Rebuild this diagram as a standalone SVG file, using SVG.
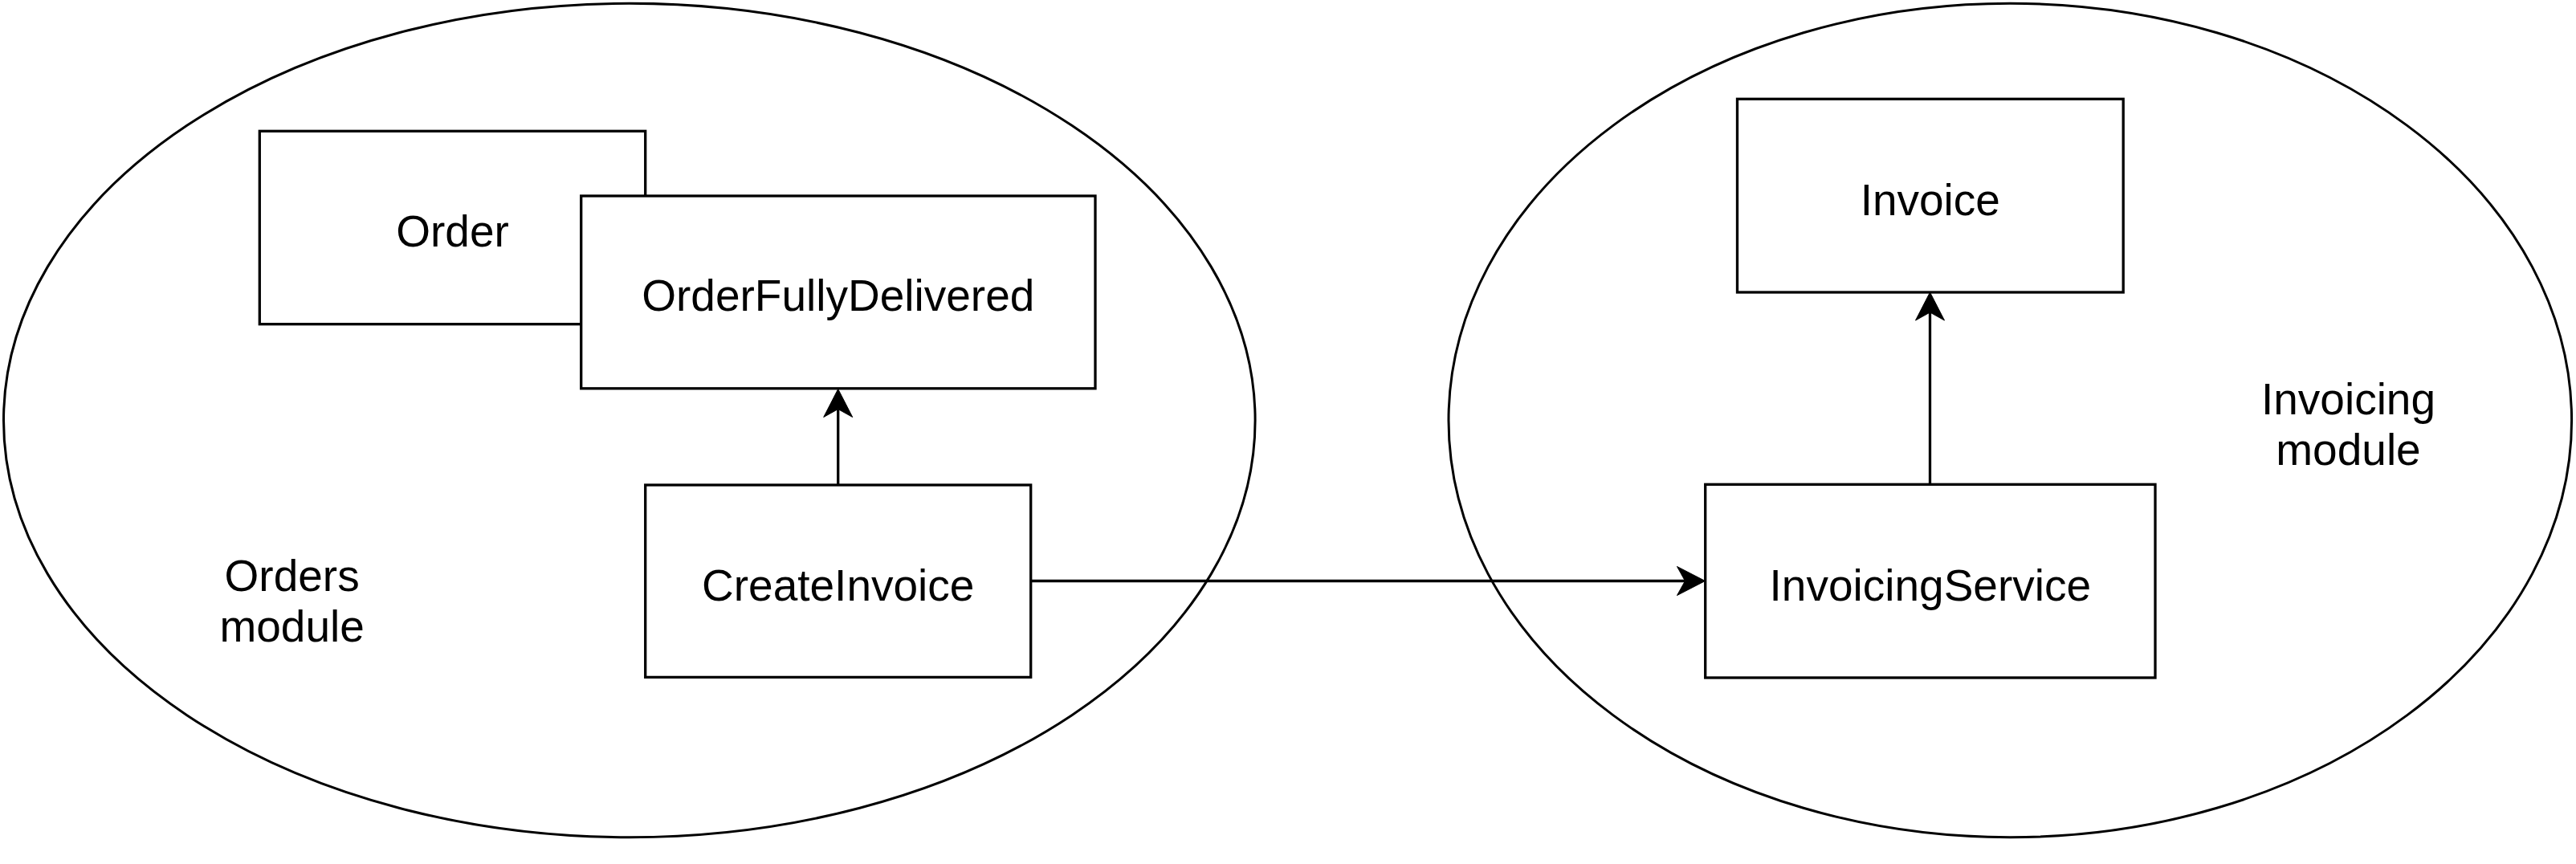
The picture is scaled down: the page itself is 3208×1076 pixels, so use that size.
<svg xmlns="http://www.w3.org/2000/svg" width="3208" height="1076" viewBox="0 0 3208 1076">
  <style>
    .module { fill: #ffffff; stroke: #000000; stroke-width: 3; }
    .box { fill: #ffffff; stroke: #000000; stroke-width: 3.3; }
    .label { font-family: "Liberation Sans", Arial, Helvetica, sans-serif; font-size: 55px; fill: #000000; text-anchor: middle; }
    .conn { fill: none; stroke: #000000; stroke-width: 3.3; marker-end: url(#arrow); }
  </style>
  <defs>
    <marker id="arrow" markerUnits="userSpaceOnUse" viewBox="-12 -20 40 40" markerWidth="40" markerHeight="40" refX="0" refY="0" orient="auto" overflow="visible">
      <path d="M25,0 L-10,-18 L0,0 L-10,18 Z" fill="#000000" stroke="#000000" stroke-width="1"/>
    </marker>
  </defs>
  <rect x="0" y="0" width="3208" height="1076" fill="#ffffff"/>

  <g id="orders-module">
    <ellipse class="module" cx="783.8" cy="523.5" rx="779.3" ry="519.2"/>
    <text class="label" x="363.6" y="735.7">Orders</text>
    <text class="label" x="363.6" y="798.5">module</text>
  </g>

  <g id="invoicing-module">
    <ellipse class="module" cx="2503.3" cy="523.5" rx="699.3" ry="519.2"/>
    <text class="label" x="2924.5" y="516">Invoicing</text>
    <text class="label" x="2924.5" y="578.8">module</text>
  </g>

  <g id="order">
    <rect class="box" x="323.3" y="163.3" width="480.4" height="240.4"/>
    <text class="label" x="563.5" y="307">Order</text>
  </g>

  <g id="order-fully-delivered">
    <rect class="box" x="723.7" y="244" width="640.3" height="239.8"/>
    <text class="label" x="1043.8" y="386.7">OrderFullyDelivered</text>
  </g>

  <g id="create-invoice">
    <rect class="box" x="803.7" y="604" width="480" height="239.4"/>
    <text class="label" x="1043.7" y="748.3">CreateInvoice</text>
  </g>

  <g id="invoice">
    <rect class="box" x="2163.5" y="123.3" width="480.7" height="240.7"/>
    <text class="label" x="2403.8" y="267.7">Invoice</text>
  </g>

  <g id="invoicing-service">
    <rect class="box" x="2123.7" y="603.3" width="560.3" height="240.7"/>
    <text class="label" x="2403.8" y="748.3">InvoicingService</text>
  </g>

  <g id="connectors">
    <path class="conn" d="M1043.7,604 V509.5"/>
    <path class="conn" d="M1283.7,723.5 H2098.5"/>
    <path class="conn" d="M2403.5,603.3 V389"/>
  </g>
</svg>
